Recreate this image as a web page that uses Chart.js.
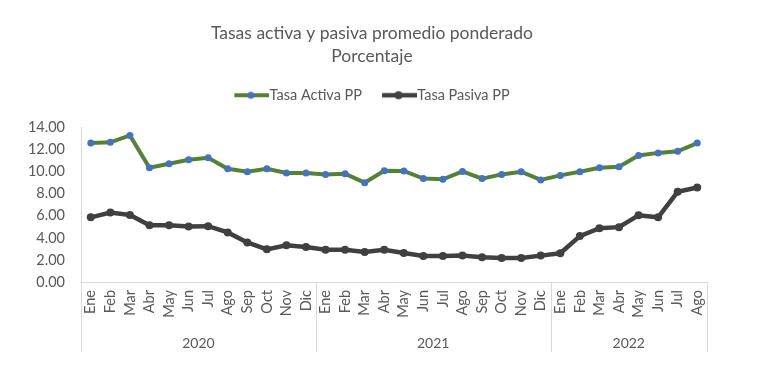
<!DOCTYPE html>
<html>
<head>
<meta charset="utf-8">
<script src="https://cdn.jsdelivr.net/npm/chart.js@4.4.0/dist/chart.umd.min.js"></script>
<style>
  html, body { margin: 0; padding: 0; background: #fff; }
  #wrap { width: 758px; height: 376px; position: relative; }
</style>
</head>
<body>
<div id="wrap"><canvas id="c" width="758" height="376"></canvas></div>
<script>
const months = ["Ene","Feb","Mar","Abr","May","Jun","Jul","Ago","Sep","Oct","Nov","Dic",
                "Ene","Feb","Mar","Abr","May","Jun","Jul","Ago","Sep","Oct","Nov","Dic",
                "Ene","Feb","Mar","Abr","May","Jun","Jul","Ago"];
const years = ["2020","2021","2022"];
const yearCounts = [12, 12, 8];
const tasaActiva = [12.59,12.66,13.28,10.35,10.71,11.07,11.25,10.26,9.99,10.26,9.87,9.87,
                    9.75,9.81,9.00,10.08,10.06,9.37,9.31,10.02,9.37,9.75,9.99,9.25,
                    9.66,9.99,10.35,10.44,11.46,11.70,11.85,12.59];
const tasaPasiva = [5.86,6.30,6.07,5.15,5.15,5.03,5.06,4.49,3.59,2.96,3.32,3.17,
                    2.93,2.93,2.72,2.93,2.63,2.36,2.36,2.39,2.24,2.18,2.18,2.39,
                    2.60,4.16,4.88,4.97,6.04,5.86,8.17,8.56];
const yTicks = [0,2,4,6,8,10,12,14];

const FONT = "Lato, 'Open Sans', sans-serif";
const TXT = "#595959";
const AXIS = "#D9D9D9";
const GREEN = "#548235";
const BLUE = "#4472C4";
const DARK = "#404040";

function legendIcon(lineColor, dotColor, lw, r) {
  const cv = document.createElement('canvas');
  cv.width = 42; cv.height = 10;
  const g = cv.getContext('2d');
  g.strokeStyle = lineColor; g.lineWidth = lw;
  g.beginPath(); g.moveTo(7, 5); g.lineTo(42, 5); g.stroke();
  g.fillStyle = dotColor;
  g.beginPath(); g.arc(23.5, 5, r, 0, Math.PI * 2); g.fill();
  return cv;
}
const icons = [legendIcon(GREEN, BLUE, 4, 3.5), legendIcon(DARK, DARK, 4.5, 4)];

const yearPlugin = {
  id: 'years',
  afterDraw(chart) {
    const ctx = chart.ctx;
    const xs = chart.scales.x;
    const area = chart.chartArea;
    const y0 = area.bottom;
    const y1 = 352;
    const bounds = [area.left];
    let idx = 0;
    yearCounts.forEach((n, i) => {
      idx += n;
      if (i < yearCounts.length - 1) {
        bounds.push((xs.getPixelForValue(idx - 1) + xs.getPixelForValue(idx)) / 2);
      } else {
        bounds.push(area.right);
      }
    });
    ctx.save();
    ctx.strokeStyle = AXIS; ctx.lineWidth = 1;
    bounds.forEach(b => {
      const bx = Math.round(b) + 0.5;
      ctx.beginPath(); ctx.moveTo(bx, y0); ctx.lineTo(bx, y1); ctx.stroke();
    });
    ctx.fillStyle = TXT;
    ctx.font = "14px " + FONT;
    ctx.textAlign = 'center'; ctx.textBaseline = 'middle';
    years.forEach((yr, i) => {
      ctx.fillText(yr, (bounds[i] + bounds[i + 1]) / 2, 343);
    });
    ctx.restore();
  }
};

new Chart(document.getElementById('c'), {
  type: 'line',
  data: {
    labels: months,
    datasets: [
      { label: 'Tasa Activa PP', data: tasaActiva, borderColor: GREEN, backgroundColor: BLUE,
        pointBackgroundColor: BLUE, pointBorderColor: BLUE, borderWidth: 4, pointBorderWidth: 0,
        pointRadius: 3.5, pointHoverRadius: 3.5, tension: 0 },
      { label: 'Tasa Pasiva PP', data: tasaPasiva, borderColor: DARK, backgroundColor: DARK,
        pointBackgroundColor: DARK, pointBorderColor: DARK, borderWidth: 4.5, pointBorderWidth: 0,
        pointRadius: 4, pointHoverRadius: 4, tension: 0 }
    ]
  },
  options: {
    responsive: false,
    animation: false,
    layout: { padding: { left: 0, right: 14, top: 0, bottom: 0 } },
    plugins: {
      title: {
        display: true,
        text: ['Tasas activa y pasiva promedio ponderado', 'Porcentaje'],
        color: TXT,
        font: { family: FONT, size: 17.5, weight: 'normal', lineHeight: 23 / 17.5 },
        padding: { top: 22, bottom: 0 }
      },
      subtitle: {
        display: true,
        text: ' ',
        weight: 500,
        color: 'rgba(0,0,0,0)',
        font: { size: 1, lineHeight: 1 },
        padding: { top: 14, bottom: 0 }
      },
      legend: {
        display: true,
        labels: {
          color: TXT,
          font: { family: FONT, size: 14.5 },
          usePointStyle: true,
          pointStyleWidth: 28,
          padding: 20,
          generateLabels(chart) {
            return chart.data.datasets.map((ds, i) => ({
              text: ds.label, fillStyle: ds.borderColor, strokeStyle: ds.borderColor,
              pointStyle: icons[i], datasetIndex: i, hidden: false, lineWidth: 0, fontColor: TXT
            }));
          }
        }
      },
      tooltip: { enabled: false }
    },
    scales: {
      x: {
        offset: true,
        grid: { display: false, drawTicks: false },
        border: { display: true, color: AXIS },
        ticks: { color: TXT, font: { family: FONT, size: 14.5 }, minRotation: 90, maxRotation: 90,
                 autoSkip: false, padding: 8 },
        afterFit(s) { s.height = 94; }
      },
      y: {
        min: 0, max: 14,
        grid: { display: false, drawTicks: false },
        border: { display: true, color: AXIS },
        afterBuildTicks(s) { s.ticks = yTicks.map(v => ({ value: v })); },
        ticks: { color: TXT, font: { family: FONT, size: 14.5 }, padding: 16,
                 callback: v => Number(v).toFixed(2) },
        afterFit(s) { s.width = 81; }
      },
      yR: {
        position: 'right',
        display: true,
        min: 0, max: 14,
        grid: { display: false, drawTicks: false },
        border: { display: false },
        ticks: { display: false },
        afterFit(s) { s.width = 37; }
      }
    }
  },
  plugins: [yearPlugin]
});
</script>
</body>
</html>
